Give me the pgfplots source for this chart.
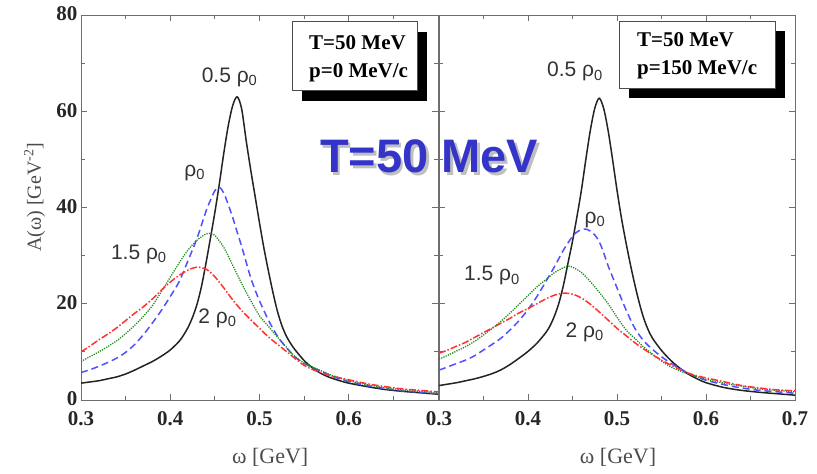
\documentclass[border=0pt]{standalone}
\usepackage{pgfplots}
\pgfplotsset{compat=1.18}
\usepackage{fontspec}
\setmainfont{Liberation Serif}
\newfontfamily\arial{Liberation Sans}
\definecolor{cblk}{RGB}{35,35,35}
\definecolor{cblu}{RGB}{80,80,255}
\definecolor{cgrn}{RGB}{25,140,25}
\definecolor{cred}{RGB}{255,50,50}
\definecolor{cbig}{RGB}{52,52,200}
\definecolor{cax}{RGB}{110,110,110}
\tikzset{lab/.style={font=\arial\fontsize{21}{21}\selectfont, text=black!80, inner sep=0pt}}
\pgfplotsset{
  panel/.style={scale only axis, height=385pt, anchor=south west,
    xmin=0.3, xmax=0.7, ymin=0, ymax=80,
    ytick={0,20,40,60,80}, minor ytick={10,30,50,70},
    minor xtick={0.35,0.45,0.55,0.65},
    tick align=inside, major tick length=6pt, minor tick length=4pt,
    axis line style={cax, line width=0.9pt},
    every tick/.style={cax, line width=0.9pt},
    tick label style={font=\fontsize{21}{21}\selectfont\bfseries, black!85},
    /pgf/number format/assume math mode=true,
    xticklabel style={yshift=-8pt, /pgf/number format/.cd, fixed, fixed zerofill, precision=1},
    yticklabel style={yshift=1pt},
    xlabel style={font=\fontsize{22}{22}\selectfont, black!70},
    ylabel style={font=\fontsize{20}{20}\selectfont, black!70},
  },
  blk/.style={cblk, line width=1.5pt, smooth},
  blu/.style={cblu, line width=1.5pt, dash pattern=on 7pt off 4pt, smooth},
  grn/.style={cgrn, line width=1.3pt, dash pattern=on 1.2pt off 1.2pt, smooth},
  rdd/.style={cred, line width=1.5pt, dash pattern=on 7pt off 2pt on 1.5pt off 2pt, smooth},
}
\begin{document}
\begin{tikzpicture}[x=1pt,y=1pt]
\path[use as bounding box] (0,0) rectangle (817,474);
% ---------------- left panel : p = 0 MeV/c
\begin{axis}[panel, at={(81pt,74pt)}, width=357pt,
  xtick={0.3,0.4,0.5,0.6},
  xlabel={ω [GeV]}, ylabel={A(ω) [GeV\textsuperscript{-2}]},
  xlabel style={at={(axis description cs:0.53,-0.15)}, anchor=center},
  ylabel style={at={(axis description cs:-0.13,0.527)}, anchor=center},
]
\addplot[blk] coordinates {(0.30,3.5) (0.31,3.75) (0.32,4.0) (0.33,4.4) (0.34,4.8) (0.35,5.4) (0.36,6.2) (0.37,7.1) (0.38,8.0) (0.39,9.1) (0.40,10.4) (0.41,12.2) (0.415,13.5) (0.42,15.1) (0.425,17.2) (0.43,19.9) (0.435,23.6) (0.44,28.4) (0.445,33.6) (0.45,39.0) (0.455,44.9) (0.46,51.3) (0.465,57.0) (0.47,61.2) (0.475,63.0) (0.48,60.5) (0.485,54.0) (0.49,48.0) (0.495,42.4) (0.50,36.8) (0.505,31.5) (0.51,26.8) (0.515,22.4) (0.52,18.5) (0.525,15.5) (0.53,13.3) (0.535,11.7) (0.54,10.4) (0.55,8.2) (0.56,6.6) (0.57,5.4) (0.58,4.6) (0.59,4.0) (0.60,3.5) (0.62,2.8) (0.64,2.2) (0.66,1.8) (0.68,1.5) (0.70,1.2)};
\addplot[blu] coordinates {(0.30,5.7) (0.31,6.3) (0.32,7.0) (0.33,7.8) (0.34,8.7) (0.35,9.9) (0.36,11.5) (0.37,13.6) (0.38,16.0) (0.39,18.6) (0.40,21.5) (0.41,24.6) (0.42,29.0) (0.43,33.6) (0.44,39.2) (0.445,41.5) (0.45,43.5) (0.455,44.2) (0.46,43.0) (0.465,40.6) (0.47,37.9) (0.475,34.9) (0.48,31.9) (0.485,28.7) (0.49,25.5) (0.495,22.9) (0.50,20.6) (0.51,16.6) (0.52,13.3) (0.53,10.9) (0.54,8.9) (0.55,7.6) (0.56,6.7) (0.57,5.9) (0.58,5.0) (0.59,4.4) (0.60,3.8) (0.62,3.0) (0.64,2.4) (0.66,1.9) (0.68,1.6) (0.70,1.3)};
\addplot[grn] coordinates {(0.30,8.0) (0.31,9.0) (0.32,10.0) (0.33,11.1) (0.34,12.3) (0.35,13.8) (0.36,15.5) (0.37,17.4) (0.38,19.6) (0.39,22.5) (0.40,25.5) (0.41,28.5) (0.42,31.2) (0.43,33.2) (0.44,34.5) (0.445,34.6) (0.45,34.2) (0.46,31.7) (0.47,28.0) (0.48,24.2) (0.49,20.7) (0.50,17.5) (0.51,15.3) (0.52,13.1) (0.53,11.0) (0.54,9.0) (0.55,7.7) (0.56,6.8) (0.57,6.0) (0.58,5.2) (0.59,4.6) (0.60,4.0) (0.62,3.2) (0.64,2.6) (0.66,2.1) (0.68,1.8) (0.70,1.5)};
\addplot[rdd] coordinates {(0.30,10.0) (0.31,11.2) (0.32,12.5) (0.33,13.7) (0.34,15.0) (0.35,16.5) (0.36,18.0) (0.37,19.4) (0.38,21.0) (0.39,22.8) (0.40,24.5) (0.41,25.9) (0.42,27.0) (0.43,27.6) (0.44,27.2) (0.45,25.6) (0.46,23.3) (0.47,20.8) (0.48,18.6) (0.49,16.7) (0.50,14.9) (0.51,13.1) (0.52,11.6) (0.53,10.1) (0.54,8.6) (0.55,7.2) (0.56,6.3) (0.57,5.6) (0.58,5.0) (0.59,4.6) (0.60,4.2) (0.62,3.4) (0.64,2.8) (0.66,2.3) (0.68,2.0) (0.70,1.7)};
\node[lab] at (axis cs:0.4665,67.1) {0.5 ρ\textsubscript{0}};
\node[lab] at (axis cs:0.4274,47.2) {ρ\textsubscript{0}};
\node[lab] at (axis cs:0.3648,30.3) {1.5 ρ\textsubscript{0}};
\node[lab] at (axis cs:0.453,17.0) {2 ρ\textsubscript{0}};
\end{axis}
% ---------------- right panel : p = 150 MeV/c
\begin{axis}[panel, at={(439pt,74pt)}, width=356pt,
  xtick={0.3,0.4,0.5,0.6,0.7}, yticklabels={},
  xlabel={ω [GeV]},
  xlabel style={at={(axis description cs:0.503,-0.15)}, anchor=center},
]
\addplot[blk] coordinates {(0.30,3.0) (0.31,3.3) (0.32,3.6) (0.33,4.0) (0.34,4.4) (0.35,4.9) (0.36,5.5) (0.37,6.3) (0.38,7.4) (0.39,8.7) (0.40,10.1) (0.41,11.8) (0.42,14.0) (0.425,15.5) (0.43,17.6) (0.435,20.3) (0.44,24.0) (0.445,28.5) (0.45,33.0) (0.455,38.1) (0.46,43.6) (0.465,50.0) (0.47,56.0) (0.475,60.6) (0.48,62.7) (0.485,60.6) (0.49,56.0) (0.495,50.0) (0.50,43.6) (0.505,37.8) (0.51,32.8) (0.515,28.2) (0.52,24.0) (0.525,20.2) (0.53,17.0) (0.535,14.6) (0.54,12.8) (0.55,10.3) (0.56,8.3) (0.57,6.7) (0.58,5.4) (0.59,4.4) (0.60,3.6) (0.62,2.6) (0.64,2.0) (0.66,1.6) (0.68,1.3) (0.70,1.0)};
\addplot[blu] coordinates {(0.30,6.2) (0.31,6.9) (0.32,7.6) (0.33,8.3) (0.34,9.2) (0.35,10.4) (0.36,11.6) (0.37,12.9) (0.38,14.6) (0.39,16.5) (0.40,18.8) (0.41,21.5) (0.42,24.6) (0.43,27.8) (0.44,31.2) (0.45,34.0) (0.455,34.9) (0.46,35.4) (0.465,35.5) (0.47,35.1) (0.475,34.3) (0.48,32.9) (0.485,30.6) (0.49,27.9) (0.50,23.3) (0.51,18.8) (0.52,14.9) (0.53,12.3) (0.54,10.5) (0.55,9.0) (0.56,7.7) (0.57,6.6) (0.58,5.6) (0.59,4.8) (0.60,4.1) (0.62,3.2) (0.64,2.5) (0.66,2.0) (0.68,1.7) (0.70,1.4)};
\addplot[grn] coordinates {(0.30,8.5) (0.31,9.3) (0.32,10.2) (0.33,11.1) (0.34,12.2) (0.35,13.5) (0.36,14.9) (0.37,16.4) (0.38,18.1) (0.39,19.9) (0.40,21.7) (0.41,23.5) (0.42,25.0) (0.43,26.5) (0.44,27.5) (0.445,27.8) (0.45,27.6) (0.46,26.5) (0.47,24.6) (0.48,22.4) (0.49,20.0) (0.50,17.2) (0.51,14.6) (0.52,12.8) (0.53,11.0) (0.54,9.5) (0.55,8.1) (0.56,6.9) (0.57,6.1) (0.58,5.4) (0.59,4.8) (0.60,4.3) (0.62,3.5) (0.64,2.9) (0.66,2.3) (0.68,2.0) (0.70,1.7)};
\addplot[rdd] coordinates {(0.30,9.7) (0.31,10.4) (0.32,11.2) (0.33,12.0) (0.34,13.0) (0.35,14.0) (0.36,15.0) (0.37,16.0) (0.38,17.0) (0.39,18.1) (0.40,19.0) (0.41,20.0) (0.42,21.0) (0.43,21.8) (0.44,22.2) (0.45,22.0) (0.46,21.2) (0.47,19.9) (0.48,18.3) (0.49,16.6) (0.50,14.9) (0.51,13.4) (0.52,11.9) (0.53,10.6) (0.54,9.4) (0.55,8.3) (0.56,7.3) (0.57,6.4) (0.58,5.6) (0.59,5.0) (0.60,4.6) (0.62,3.8) (0.64,3.0) (0.66,2.5) (0.68,2.1) (0.70,1.9)};
\node[lab] at (axis cs:0.4528,68.2) {0.5 ρ\textsubscript{0}};
\node[lab] at (axis cs:0.4753,37.4) {ρ\textsubscript{0}};
\node[lab] at (axis cs:0.3596,25.8) {1.5 ρ\textsubscript{0}};
\node[lab] at (axis cs:0.4636,14.1) {2 ρ\textsubscript{0}};
\end{axis}
% ---------------- info boxes
\fill[black] (302,373.3) rectangle (427,442.3);
\filldraw[fill=white, draw=black!70, line width=0.8pt] (292,383.3) rectangle (417,452.3);
\node[anchor=base west, inner sep=0pt, font=\fontsize{21}{21}\selectfont\bfseries] at (309,424) {T=50 MeV};
\node[anchor=base west, inner sep=0pt, font=\fontsize{21}{21}\selectfont\bfseries] at (309,396) {p=0 MeV/c};
\fill[black] (629,376) rectangle (785,443);
\filldraw[fill=white, draw=black!70, line width=0.8pt] (619,386) rectangle (775,453);
\node[anchor=base west, inner sep=0pt, font=\fontsize{21}{21}\selectfont\bfseries] at (637,427) {T=50 MeV};
\node[anchor=base west, inner sep=0pt, font=\fontsize{21}{21}\selectfont\bfseries] at (637,399) {p=150 MeV/c};
% ---------------- overlay title
\node[anchor=base west, inner sep=0pt, font=\arial\bfseries\fontsize{47}{47}\selectfont, text=black!25] at (322.5,298.5) {T=50 MeV};
\node[anchor=base west, inner sep=0pt, font=\arial\bfseries\fontsize{47}{47}\selectfont, text=cbig] at (320,301) {T=50 MeV};
\end{tikzpicture}
\end{document}
